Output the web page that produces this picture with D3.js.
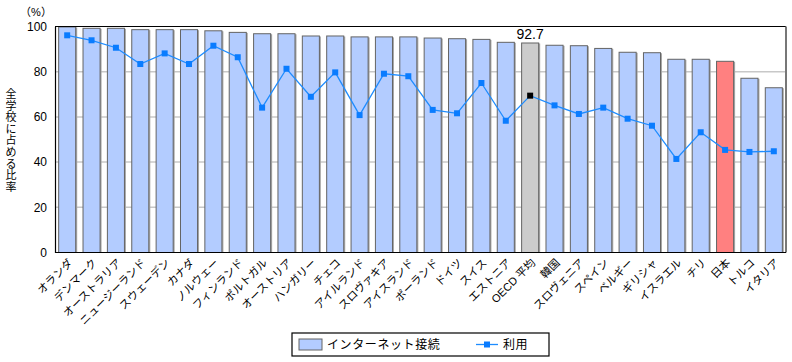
<!DOCTYPE html>
<html>
  <head>
    <meta charset="utf-8">
    <title>学校のインターネット接続と利用</title>
    <script src="https://d3js.org/d3.v7.min.js"></script>
    <style>
      body { margin: 0; background: #fff; }
      svg text { font-family: "Liberation Sans", "Noto Sans CJK JP", sans-serif; fill: #000; }
    </style>
  </head>
  <body>
    <div id="chart"></div>
    <script>
      // countries, left to right
      const countries = ["オランダ", "デンマーク", "オーストラリア", "ニュージーランド", "スウェーデン", "カナダ",
        "ノルウェー", "フィンランド", "ポルトガル", "オーストリア", "ハンガリー", "チェコ", "アイルランド",
        "スロヴァキア", "アイスランド", "ポーランド", "ドイツ", "スイス", "エストニア", "OECD 平均", "韓国",
        "スロヴェニア", "スペイン", "ベルギー", "ギリシャ", "イスラエル", "チリ", "日本", "トルコ", "イタリア"];
      // bars: share of schools connected to the internet (%)
      const connected = [99.8, 99.2, 99.2, 98.6, 98.6, 98.6, 98.1, 97.4, 96.8, 96.8, 95.8, 95.8, 95.4,
        95.4, 95.4, 94.9, 94.6, 94.3, 93.0, 92.7, 91.7, 91.5, 90.3, 88.6, 88.4, 85.5, 85.5, 84.6, 77.1, 72.9];
      // line: share of schools using it (%)
      const used = [96.1, 93.9, 90.6, 83.4, 88.1, 83.4, 91.5, 86.4, 64.1, 81.3, 68.9, 79.7, 60.8,
        79.1, 78.0, 63.1, 61.6, 75.0, 58.3, 69.4, 65.1, 61.3, 64.1, 59.2, 56.1, 41.4, 53.2, 45.4, 44.5, 44.8];
      const yTicks = [0, 20, 40, 60, 80, 100];
      const avgName = "OECD 平均", japan = "日本";
      const yTitle = "全学校に占める比率";

      const W = 792, H = 362;
      const m = { left: 55, right: 6, top: 26.5, bottom: 109.5 };

      const svg = d3.select("#chart").append("svg")
        .attr("width", W).attr("height", H);

      const x = d3.scaleBand().domain(countries)
        .range([m.left, W - m.right]).paddingInner(0.3).paddingOuter(0.15);
      const y = d3.scaleLinear().domain([0, 100]).range([H - m.bottom, m.top]);

      // gridlines
      svg.append("g")
        .selectAll("line")
          .data(yTicks.filter(d => d > 0 && d < 100))
        .enter().append("line")
          .attr("x1", m.left).attr("x2", W - m.right)
          .attr("y1", d => y(d)).attr("y2", d => y(d))
          .attr("stroke", "#c8c8c8").attr("stroke-width", 1.5);

      // bars with a soft right-hand shadow
      const bars = svg.append("g");
      bars.selectAll(".shadow")
          .data(countries)
        .enter().append("rect")
          .attr("class", "shadow")
          .attr("x", d => x(d) + 1.5)
          .attr("y", (d, i) => y(connected[i]) + 0.5)
          .attr("width", x.bandwidth())
          .attr("height", (d, i) => y(0) - y(connected[i]))
          .attr("fill", "#a8a8a8");
      bars.selectAll(".bar")
          .data(countries)
        .enter().append("rect")
          .attr("class", "bar")
          .attr("x", d => x(d))
          .attr("y", (d, i) => y(connected[i]))
          .attr("width", x.bandwidth())
          .attr("height", (d, i) => y(0) - y(connected[i]))
          .attr("fill", d => d == avgName ? "#cccccc" : d == japan ? "#ff8080" : "#b3ccff")
          .attr("stroke", "#646464").attr("stroke-width", 1);

      // value label over the average bar
      const ai = countries.indexOf(avgName);
      svg.append("text")
        .attr("x", x(avgName) + x.bandwidth() / 2)
        .attr("y", y(connected[ai]) - 4)
        .attr("text-anchor", "middle")
        .attr("font-size", 14)
        .text(connected[ai]);

      // frame
      svg.append("line")
        .attr("x1", m.left).attr("x2", W - m.right)
        .attr("y1", m.top).attr("y2", m.top)
        .attr("stroke", "#000").attr("stroke-width", 1.2);
      svg.append("line")
        .attr("x1", W - m.right).attr("x2", W - m.right)
        .attr("y1", m.top).attr("y2", y(0))
        .attr("stroke", "#777").attr("stroke-width", 2);

      // usage line
      const cx = d => x(d) + x.bandwidth() / 2;
      const line = d3.line().x((d, i) => cx(countries[i])).y(d => y(d));
      svg.append("path")
        .datum(used)
        .attr("d", line)
        .attr("fill", "none")
        .attr("stroke", "#1e8cff").attr("stroke-width", 1.3);
      svg.append("g")
        .selectAll("rect")
          .data(used)
        .enter().append("rect")
          .attr("x", (d, i) => cx(countries[i]) - 3)
          .attr("y", d => y(d) - 3)
          .attr("width", 6).attr("height", 6)
          .attr("fill", (d, i) => countries[i] == avgName ? "#000" : "#0a7cff");

      // y axis
      const yAxis = svg.append("g")
        .attr("transform", "translate(" + m.left + ",0)")
        .call(d3.axisLeft(y).tickValues(yTicks).tickSize(0).tickPadding(8));
      yAxis.select(".domain").attr("stroke", "#000").attr("stroke-width", 1.2);
      yAxis.selectAll("text").attr("font-size", 12).attr("font-family", null);

      // x axis
      const xAxis = svg.append("g")
        .attr("transform", "translate(0," + y(0) + ")")
        .call(d3.axisBottom(x).tickSize(0).tickSizeOuter(0));
      xAxis.select(".domain").attr("stroke", "#000").attr("stroke-width", 1.2)
        .attr("d", "M" + m.left + ",0H" + (W - m.right));
      xAxis.selectAll("text")
        .attr("font-size", 11).attr("font-family", null)
        .attr("text-anchor", "end")
        .attr("dy", null).attr("y", null)
        .attr("transform", "translate(6,11) rotate(-45)");

      // axis titles
      svg.append("text")
        .attr("x", 36).attr("y", 16)
        .attr("text-anchor", "middle").attr("font-size", 11)
        .text("（%）");
      // vertical title, one character per line
      svg.append("g")
        .selectAll("text")
          .data(Array.from(yTitle))
        .enter().append("text")
          .attr("x", 11).attr("y", (d, i) => 98 + i * 11.6)
          .attr("text-anchor", "middle")
          .attr("font-size", 11)
          .text(d => d);

      // legend
      const lg = svg.append("g").attr("transform", "translate(292,333)");
      lg.append("rect")
        .attr("width", 257).attr("height", 23)
        .attr("fill", "#fff").attr("stroke", "#000").attr("stroke-width", 1.2);
      lg.append("rect")
        .attr("x", 7).attr("y", 6).attr("width", 23).attr("height", 11)
        .attr("fill", "#b3ccff").attr("stroke", "#646464");
      lg.append("text")
        .attr("x", 35).attr("y", 16)
        .attr("font-size", 12).style("letter-spacing", "0.6px")
        .text("インターネット接続");
      lg.append("line")
        .attr("x1", 184).attr("x2", 206).attr("y1", 11.5).attr("y2", 11.5)
        .attr("stroke", "#1e8cff").attr("stroke-width", 1.3);
      lg.append("rect")
        .attr("x", 192).attr("y", 8.5).attr("width", 6).attr("height", 6)
        .attr("fill", "#0a7cff");
      lg.append("text")
        .attr("x", 211).attr("y", 16)
        .attr("font-size", 12).style("letter-spacing", "0.6px")
        .text("利用");
    </script>
  </body>
</html>
